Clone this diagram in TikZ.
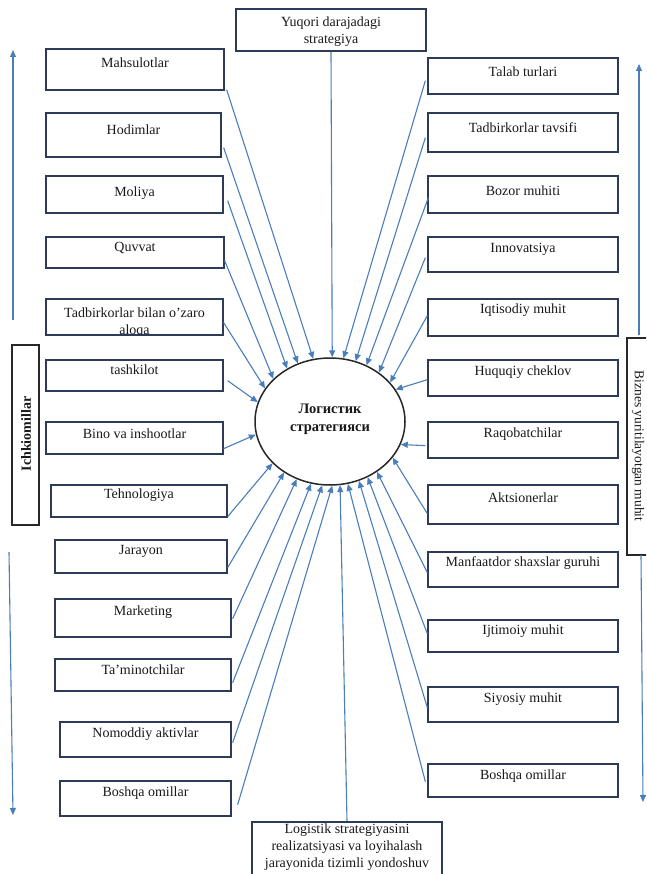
\documentclass[tikz,border=0pt]{standalone}
\usepackage{fontspec}
\setmainfont{Liberation Serif}
\usetikzlibrary{shapes.geometric,arrows.meta}
\definecolor{connc}{RGB}{74,126,187}
\definecolor{boxc}{RGB}{45,58,88}
\definecolor{edgec}{RGB}{40,40,40}
\tikzset{
  box/.style={draw=boxc,line width=1.3pt,rectangle,inner sep=0pt},
  sidebox/.style={draw=edgec,line width=1.2pt,rectangle,inner sep=0pt},
  lbl/.style={inner sep=0pt,align=center,text=black!90,font=\fontsize{14}{17}\selectfont},
  conn/.style={draw=connc,line width=1.1pt,-{Triangle[length=7pt,width=6pt]}},
  sidearrow/.style={draw=connc,line width=1.1pt,-{Triangle[length=7pt,width=6pt]}}
}
\begin{document}
\begin{tikzpicture}[x=1pt,y=-1pt]
\useasboundingbox (0,0) rectangle (646,874);
\clip (0,0) rectangle (646,874);
\fill[white] (0,0) rectangle (646,874);

% central ellipse
\node[ellipse,draw=edgec,line width=1.5pt,minimum width=150pt,minimum height=127pt,inner sep=0pt] (ell) at (330,421.5) {};
\node[lbl,font=\fontsize{14.5}{18}\selectfont\bfseries] (ellt) at (330,419) {Логистик\\стратегияси};

% top and bottom boxes
\node[box,minimum width=190pt,minimum height=42pt] (yuq) at (331,30) {};
\node[lbl] (yuqt) at (331,31.5) {Yuqori darajadagi\\strategiya};
\node[box,minimum width=190pt,minimum height=78pt] (bot) at (347,861) {};
\node[lbl,anchor=north] (bott) at (347,824) {Logistik strategiyasini\\realizatsiyasi va loyihalash\\jarayonida tizimli yondoshuv};

% side label boxes
\node[sidebox,minimum width=27pt,minimum height=180pt] (ichki) at (25.5,435) {};
\node[lbl,rotate=90,font=\fontsize{14}{17}\selectfont\bfseries] (ichkit) at (26,434) {Ichkiomillar};
\node[sidebox,minimum width=39pt,minimum height=217pt] (biz) at (646.5,446.5) {};
\node[lbl,rotate=-90,font=\fontsize{13.5}{17}\selectfont] (bizt) at (638,446) {Biznes yuritilayotgan muhit};

% left boxes
\node[box,minimum width=178pt,minimum height=41pt] (l1) at (135,69.5) {};
\node[lbl] (l1t) at (135,63) {Mahsulotlar};
\node[box,minimum width=175pt,minimum height=44pt] (l2) at (133.5,135) {};
\node[lbl] (l2t) at (133.5,130) {Hodimlar};
\node[box,minimum width=177pt,minimum height=37pt] (l3) at (134.5,194.5) {};
\node[lbl] (l3t) at (134.5,193) {Moliya};
\node[box,minimum width=178pt,minimum height=31pt] (l4) at (135,252.5) {};
\node[lbl] (l4t) at (135,248) {Quvvat};
\node[box,minimum width=177pt,minimum height=36pt] (l5) at (134.5,317) {};
\begin{scope}
\clip (47,300) rectangle (222,334);
\node[lbl] (l5t) at (134.5,323) {Tadbirkorlar bilan o'zaro\\aloqa};
\end{scope}
\node[box,minimum width=177pt,minimum height=31pt] (l6) at (134.5,375.5) {};
\node[lbl] (l6t) at (134.5,370) {tashkilot};
\node[box,minimum width=177pt,minimum height=32pt] (l7) at (134.5,438) {};
\node[lbl] (l7t) at (134.5,434) {Bino va inshootlar};
\node[box,minimum width=176pt,minimum height=32pt] (l8) at (139,501) {};
\node[lbl] (l8t) at (139,495) {Tehnologiya};
\node[box,minimum width=172pt,minimum height=33pt] (l9) at (141,556.5) {};
\node[lbl] (l9t) at (141,551) {Jarayon};
\node[box,minimum width=176pt,minimum height=38pt] (l10) at (143,618) {};
\node[lbl] (l10t) at (143,612) {Marketing};
\node[box,minimum width=176pt,minimum height=32pt] (l11) at (143,675) {};
\node[lbl] (l11t) at (143,670) {Ta'minotchilar};
\node[box,minimum width=171pt,minimum height=35pt] (l12) at (145.5,739.5) {};
\node[lbl] (l12t) at (145.5,734) {Nomoddiy aktivlar};
\node[box,minimum width=171pt,minimum height=35pt] (l13) at (145.5,798.5) {};
\node[lbl] (l13t) at (145.5,793) {Boshqa omillar};

% right boxes
\node[box,minimum width=190pt,minimum height=36pt] (r1) at (523,76) {};
\node[lbl] (r1t) at (523,72) {Talab turlari};
\node[box,minimum width=190pt,minimum height=39pt] (r2) at (523,132.5) {};
\node[lbl] (r2t) at (523,128) {Tadbirkorlar tavsifi};
\node[box,minimum width=190pt,minimum height=37pt] (r3) at (523,194.5) {};
\node[lbl] (r3t) at (523,191) {Bozor muhiti};
\node[box,minimum width=190pt,minimum height=35pt] (r4) at (523,254.5) {};
\node[lbl] (r4t) at (523,249) {Innovatsiya};
\node[box,minimum width=190pt,minimum height=37pt] (r5) at (523,317.5) {};
\node[lbl] (r5t) at (523,310) {Iqtisodiy muhit};
\node[box,minimum width=190pt,minimum height=36pt] (r6) at (523,378) {};
\node[lbl] (r6t) at (523,372) {Huquqiy cheklov};
\node[box,minimum width=190pt,minimum height=36pt] (r7) at (523,440) {};
\node[lbl] (r7t) at (523,434) {Raqobatchilar};
\node[box,minimum width=190pt,minimum height=39pt] (r8) at (523,504.5) {};
\node[lbl] (r8t) at (523,498) {Aktsionerlar};
\node[box,minimum width=190pt,minimum height=35pt] (r9) at (523,569.5) {};
\node[lbl] (r9t) at (523,563) {Manfaatdor shaxslar guruhi};
\node[box,minimum width=190pt,minimum height=32pt] (r10) at (523,636) {};
\node[lbl] (r10t) at (523,631) {Ijtimoiy muhit};
\node[box,minimum width=190pt,minimum height=35pt] (r11) at (523,704.5) {};
\node[lbl] (r11t) at (523,699) {Siyosiy muhit};
\node[box,minimum width=190pt,minimum height=33pt] (r12) at (523,780.5) {};
\node[lbl] (r12t) at (523,776) {Boshqa omillar};

% connectors: top / bottom
\draw[conn] (yuq.south) -- (ell.88);
\draw[conn] (bot.north) -- (ell.279);

% connectors: left
\draw[conn] ([shift={(2,-1)}]l1.south east) -- (ell.105.6);
\draw[conn] ([shift={(2,-10)}]l2.south east) -- (ell.119.4);
\draw[conn] ([shift={(4,-13)}]l3.south east) -- (ell.129.8);
\draw[conn] ([shift={(0,-8)}]l4.south east) -- (ell.143.4);
\draw[conn] ([shift={(0,-13)}]l5.south east) -- (ell.153.4);
\draw[conn] ([shift={(4,-11)}]l6.south east) -- (ell.165);
\draw[conn] ([shift={(0,-6)}]l7.south east) -- (ell.190);
\draw[conn] ([shift={(0,-1)}]l8.south east) -- (ell.216.3);
\draw[conn] ([shift={(0,-6)}]l9.south east) -- (ell.228.6);
\draw[conn] ([shift={(1,-19)}]l10.south east) -- (ell.240.4);
\draw[conn] ([shift={(1,-9)}]l11.south east) -- (ell.253.3);
\draw[conn] ([shift={(1,-15)}]l12.south east) -- (ell.263);
\draw[conn] ([shift={(6,-12)}]l13.south east) -- (ell.272.5);

% connectors: right
\draw[conn] ([shift={(-2,-14)}]r1.south west) -- (ell.78.4);
\draw[conn] ([shift={(-2,-15)}]r2.south west) -- (ell.67);
\draw[conn] ([shift={(1,-16)}]r3.south west) -- (ell.57.7);
\draw[conn] ([shift={(-2,-15)}]r4.south west) -- (ell.45.3);
\draw[conn] ([shift={(0,-21)}]r5.south west) -- (ell.33.6);
\draw[conn] ([shift={(0,-17)}]r6.south west) -- (ell.26.2);
\draw[conn] ([shift={(-2,-13)}]r7.south west) -- (ell.342);
\draw[conn] ([shift={(0,-11)}]r8.south west) -- (ell.330.3);
\draw[conn] ([shift={(0,-15)}]r9.south west) -- (ell.313.6);
\draw[conn] ([shift={(0,-19)}]r10.south west) -- (ell.304.8);
\draw[conn] ([shift={(0,-15)}]r11.south west) -- (ell.296.4);
\draw[conn] ([shift={(-2,-16)}]r12.south west) -- (ell.286.5);

% side arrows
\coordinate (lua) at (13,320);
\coordinate (lub) at (13,50);
\coordinate (lda) at (9,552);
\coordinate (ldb) at (13,815);
\coordinate (rua) at (639,335);
\coordinate (rub) at (639,64);
\coordinate (rda) at (641,555);
\coordinate (rdb) at (643,802);
\draw[sidearrow] (lua) -- (lub);
\draw[sidearrow] (lda) -- (ldb);
\draw[sidearrow] (rua) -- (rub);
\draw[sidearrow] (rda) -- (rdb);
\end{tikzpicture}
\end{document}
